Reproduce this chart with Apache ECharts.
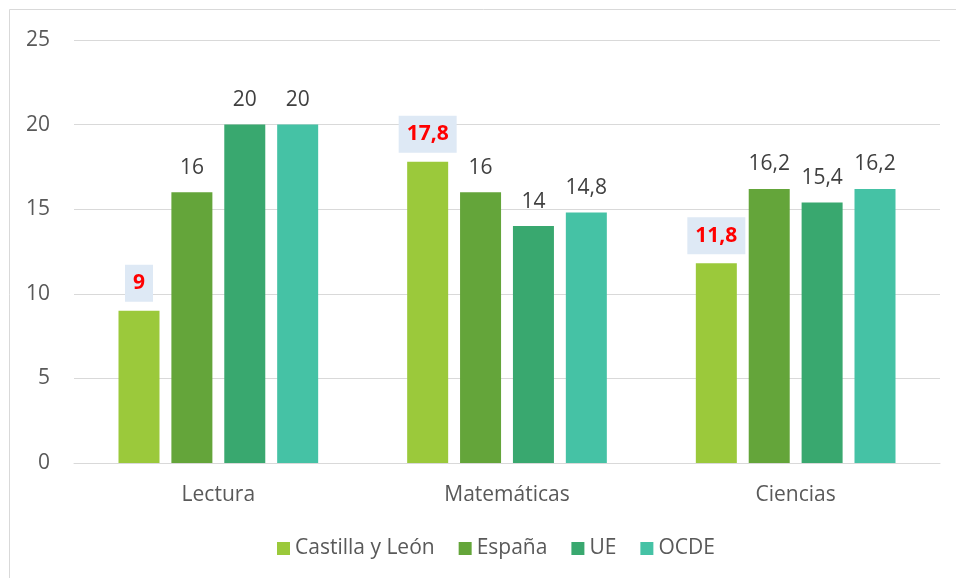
<!DOCTYPE html>
<html>
<head>
<meta charset="utf-8">
<script src="https://cdn.jsdelivr.net/npm/echarts@6/dist/echarts.min.js"></script>
<style>
  html, body { margin: 0; padding: 0; background: #fff; }
  #chart { width: 956px; height: 578px; }
</style>
</head>
<body>
<div id="chart"></div>
<script>
// Subject areas on the x axis
const categories = ['Lectura', 'Matemáticas', 'Ciencias'];

// Values per region
const castillaLeon = [9, 17.8, 11.8];
const espana = [16, 16, 16.2];
const ue = [20, 14, 15.4];
const ocde = [20, 14.8, 16.2];

// Y axis ticks
const yTicks = [0, 5, 10, 15, 20, 25];

const seriesNames = ['Castilla y León', 'España', 'UE', 'OCDE'];
const seriesColors = ['#9BC93B', '#64A53A', '#39A86F', '#45C2A5'];
const seriesData = [castillaLeon, espana, ue, ocde];

const FONT = '"Open Sans", sans-serif';
const fmt = v => String(v).replace('.', ',');

const chart = echarts.init(document.getElementById('chart'));

const series = seriesData.map((data, i) => {
  const highlighted = i === 0;
  return {
    name: seriesNames[i],
    type: 'bar',
    data: data,
    barWidth: 41,
    barGap: '29%',
    itemStyle: { color: seriesColors[i] },
    label: highlighted ? {
      show: true,
      position: 'top',
      distance: 9,
      formatter: p => fmt(p.value),
      color: '#FF0000',
      fontWeight: 'bold',
      fontSize: 21,
      lineHeight: 21,
      fontFamily: FONT,
      backgroundColor: '#DEE9F5',
      padding: [8, 8, 8, 8]
    } : {
      show: true,
      position: 'top',
      distance: 14,
      formatter: p => fmt(p.value),
      color: '#404040',
      fontSize: 21,
      lineHeight: 21,
      fontFamily: FONT
    }
  };
});

chart.setOption({
  backgroundColor: '#ffffff',
  animation: false,
  graphic: [{
    type: 'rect',
    shape: { x: 9.5, y: 9.5, width: 960, height: 600 },
    style: { fill: 'none', stroke: '#D9D9D9', lineWidth: 1 },
    silent: true
  }],
  grid: { left: 74, right: 16, top: 40, bottom: 115, containLabel: false },
  legend: {
    data: seriesNames,
    bottom: 14,
    left: 272,
    itemWidth: 13,
    itemHeight: 13,
    itemGap: 24,
    icon: 'rect',
    textStyle: { color: '#595959', fontSize: 21, fontFamily: FONT }
  },
  xAxis: {
    type: 'category',
    data: categories,
    axisLine: { show: true, lineStyle: { color: '#D9D9D9', width: 1 } },
    axisTick: { show: false },
    axisLabel: { color: '#595959', fontSize: 21, fontFamily: FONT, margin: 22 }
  },
  yAxis: {
    type: 'value',
    min: yTicks[0],
    max: yTicks[yTicks.length - 1],
    interval: yTicks[1] - yTicks[0],
    axisLine: { show: false },
    axisTick: { show: false },
    splitLine: { lineStyle: { color: '#D9D9D9', width: 1 } },
    axisLabel: { color: '#595959', fontSize: 21, fontFamily: FONT, margin: 24 }
  },
  series: series
});
</script>
</body>
</html>
